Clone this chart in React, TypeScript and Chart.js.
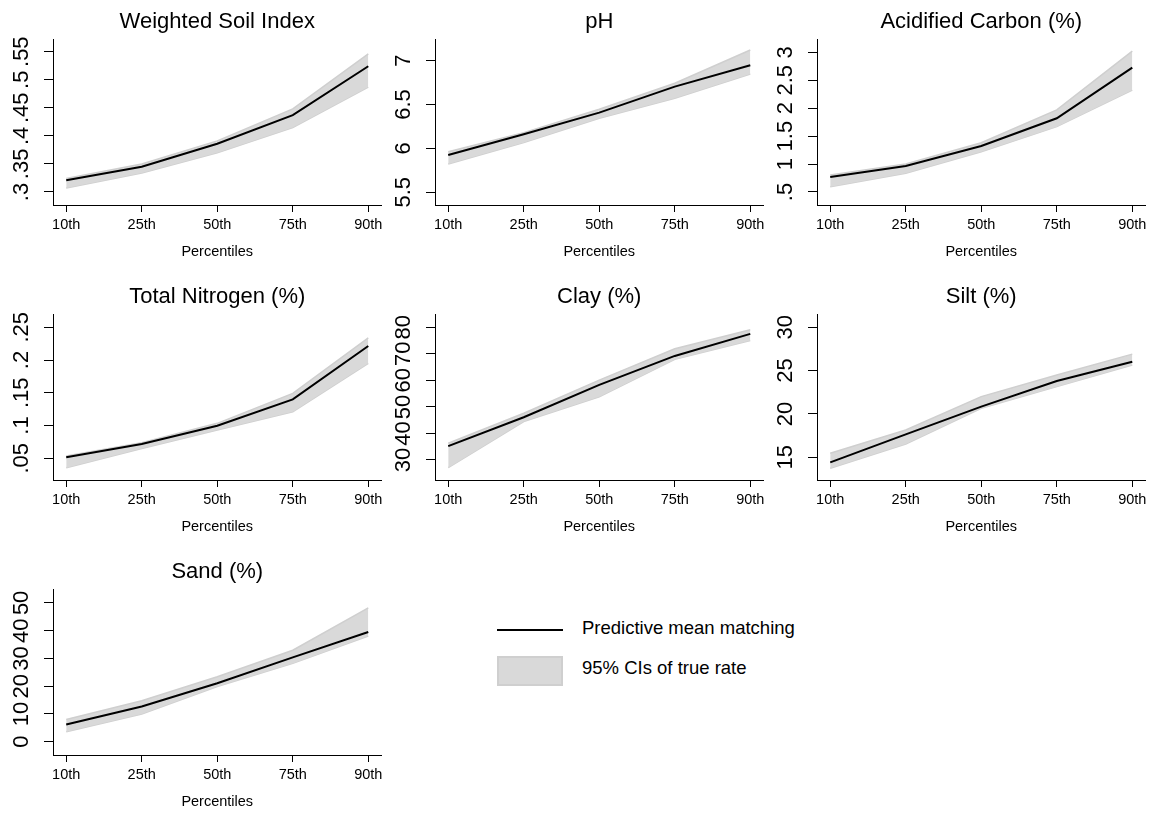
import React, { useEffect, useRef } from 'react';
import { Chart, registerables } from 'chart.js';

Chart.register(...registerables);

// ---------- data ----------
const percentileLabels = ['10th', '25th', '50th', '75th', '90th'];

const wsiMean = [0.321, 0.345, 0.386, 0.437, 0.524];
const wsiLower = [0.307, 0.334, 0.370, 0.415, 0.487];
const wsiUpper = [0.324, 0.350, 0.391, 0.448, 0.546];
const wsiTicks = ['.3', '.35', '.4', '.45', '.5', '.55'];

const phMean = [5.925, 6.161, 6.408, 6.704, 6.948];
const phLower = [5.823, 6.066, 6.343, 6.572, 6.849];
const phUpper = [5.963, 6.18, 6.446, 6.743, 7.122];
const phTicks = ['5.5', '6', '6.5', '7'];

const acMean = [0.768, 0.965, 1.323, 1.819, 2.725];
const acLower = [0.595, 0.835, 1.221, 1.669, 2.324];
const acUpper = [0.804, 1.001, 1.382, 1.968, 3.02];
const acTicks = ['.5', '1', '1.5', '2', '2.5', '3'];

const tnMean = [0.0515, 0.0718, 0.0998, 0.14, 0.2214];
const tnLower = [0.0357, 0.065, 0.0932, 0.121, 0.195];
const tnUpper = [0.0535, 0.0738, 0.1034, 0.149, 0.234];
const tnTicks = ['.05', '.1', '.15', '.2', '.25'];

const clayMean = [35.2, 46.1, 58.3, 69.2, 77.5];
const clayLower = [27.1, 44.5, 53.8, 67.9, 75.0];
const clayUpper = [36.3, 47.6, 60.1, 71.9, 79.1];
const clayTicks = ['30', '40', '50', '60', '70', '80'];

const siltMean = [14.42, 17.65, 20.84, 23.8, 26.03];
const siltLower = [13.73, 16.53, 20.65, 23.15, 25.65];
const siltUpper = [15.46, 18.15, 22.0, 24.5, 26.9];
const siltTicks = ['15', '20', '25', '30'];

const sandMean = [6.18, 12.7, 21.07, 30.36, 39.5];
const sandLower = [3.57, 10.0, 19.86, 28.2, 38.1];
const sandUpper = [8.0, 14.75, 23.4, 32.96, 48.2];
const sandTicks = ['0', '10', '20', '30', '40', '50'];

const panels = [
  { title: 'Weighted Soil Index', mean: wsiMean, lower: wsiLower, upper: wsiUpper, ticks: wsiTicks, min: 0.2768, max: 0.5726 },
  { title: 'pH', mean: phMean, lower: phLower, upper: phUpper, ticks: phTicks, min: 5.355, max: 7.247 },
  { title: 'Acidified Carbon (%)', mean: acMean, lower: acLower, upper: acUpper, ticks: acTicks, min: 0.267, max: 3.238 },
  { title: 'Total Nitrogen (%)', mean: tnMean, lower: tnLower, upper: tnUpper, ticks: tnTicks, min: 0.0169, max: 0.2703 },
  { title: 'Clay (%)', mean: clayMean, lower: clayLower, upper: clayUpper, ticks: clayTicks, min: 22.46, max: 85.0 },
  { title: 'Silt (%)', mean: siltMean, lower: siltLower, upper: siltUpper, ticks: siltTicks, min: 12.38, max: 31.53 },
  { title: 'Sand (%)', mean: sandMean, lower: sandLower, upper: sandUpper, ticks: sandTicks, min: -4.79, max: 55 },
];

// ---------- layout / style ----------
const FONT = '"Liberation Sans", Arial, Helvetica, sans-serif';
const COL_LEFT = [0, 382, 764];
const ROW_TOP = [0, 275, 550];
const CANVAS_W = 392;
const CANVAS_H = 262;
const Y_AXIS_W = 53;
const X_AXIS_H = 57;
const PLOT_W = 328.5;
const Y_TICK_SIZE = 22;
const Y_TICK_LEN = 9;
const Y_LABEL_CENTER = 31;
const BAND_FILL = '#d9d9d9';
const BAND_EDGE = '#cfcfcf';

type PanelCfg = typeof panels[number];

function Panel({ cfg, left, top }: { cfg: PanelCfg; left: number; top: number }) {
  const ref = useRef<HTMLCanvasElement>(null);
  useEffect(() => {
    const canvas = ref.current!;
    const ctx = canvas.getContext('2d')!;
    ctx.font = `${Y_TICK_SIZE}px ${FONT}`;
    const widest = Math.max(...cfg.ticks.map((t) => ctx.measureText(t).width));
    const pts = (arr: number[]) => arr.map((v, i) => ({ x: i, y: v }));
    const chart = new Chart(canvas, {
      type: 'line',
      data: {
        datasets: [
          { label: 'mean', data: pts(cfg.mean), borderColor: '#000', borderWidth: 2, pointRadius: 0, fill: false, tension: 0 },
          { label: 'upper', data: pts(cfg.upper), borderColor: BAND_EDGE, borderWidth: 1.5, pointRadius: 0, fill: '+1', backgroundColor: BAND_FILL, tension: 0 },
          { label: 'lower', data: pts(cfg.lower), borderColor: BAND_EDGE, borderWidth: 1.5, pointRadius: 0, fill: false, tension: 0 },
        ],
      },
      options: {
        responsive: false,
        animation: false,
        events: [],
        layout: { padding: { left: 0, top: 0, bottom: 0, right: CANVAS_W - Y_AXIS_W - PLOT_W } },
        plugins: {
          legend: { display: false },
          tooltip: { enabled: false },
          title: {
            display: true,
            text: cfg.title,
            fullSize: false,
            color: '#000',
            font: { family: FONT, size: 22, weight: 'normal' },
            padding: { top: 9, bottom: 3.6 },
          },
        },
        scales: {
          x: {
            type: 'linear',
            min: -0.175,
            max: 4.175,
            bounds: 'data',
            afterBuildTicks: (s: any) => {
              s.ticks = percentileLabels.map((_, i) => ({ value: i }));
            },
            afterFit: (s: any) => {
              s.height = X_AXIS_H;
            },
            ticks: {
              autoSkip: false,
              maxRotation: 0,
              minRotation: 0,
              padding: 4,
              color: '#000',
              font: { family: FONT, size: 14.5 },
              callback: (v: any) => percentileLabels[Math.round(Number(v))],
            },
            grid: { display: true, drawOnChartArea: false, drawTicks: true, tickLength: 7, color: '#000', lineWidth: 1 },
            border: { display: true, color: '#000', width: 1 },
            title: {
              display: true,
              text: 'Percentiles',
              color: '#000',
              font: { family: FONT, size: 14.5 },
              padding: { top: 0, bottom: 1.6 },
            },
          },
          y: {
            type: 'linear',
            min: cfg.min,
            max: cfg.max,
            bounds: 'data',
            afterBuildTicks: (s: any) => {
              s.ticks = cfg.ticks.map((t) => ({ value: Number(t) }));
            },
            afterFit: (s: any) => {
              s.width = Y_AXIS_W;
            },
            ticks: {
              autoSkip: false,
              minRotation: 90,
              maxRotation: 90,
              crossAlign: 'center',
              padding: Y_LABEL_CENTER - Y_TICK_LEN - widest / 2,
              color: '#000',
              font: { family: FONT, size: Y_TICK_SIZE },
              callback: (_v: any, i: number) => cfg.ticks[i],
            },
            grid: { display: true, drawOnChartArea: false, drawTicks: true, tickLength: Y_TICK_LEN, color: '#000', lineWidth: 1 },
            border: { display: true, color: '#000', width: 1 },
          },
        },
      } as any,
    });
    return () => chart.destroy();
  }, [cfg]);
  return (
    <canvas
      ref={ref}
      width={CANVAS_W}
      height={CANVAS_H}
      style={{ position: 'absolute', left, top, width: CANVAS_W, height: CANVAS_H }}
    />
  );
}

function Legend() {
  const text: React.CSSProperties = {
    position: 'absolute',
    left: 582,
    fontFamily: FONT,
    fontSize: 18.5,
    lineHeight: '22px',
    color: '#000',
    whiteSpace: 'nowrap',
  };
  return (
    <>
      <div style={{ position: 'absolute', left: 497, top: 629, width: 66, height: 2, background: '#000' }} />
      <div style={{ ...text, top: 627.5 - 11 }}>Predictive mean matching</div>
      <div
        style={{
          position: 'absolute',
          left: 497,
          top: 656,
          width: 66,
          height: 30,
          boxSizing: 'border-box',
          background: BAND_FILL,
          border: `2px solid ${BAND_EDGE}`,
        }}
      />
      <div style={{ ...text, top: 667.5 - 11 }}>95% CIs of true rate</div>
    </>
  );
}

export default function App() {
  return (
    <div style={{ position: 'absolute', left: 0, top: 0, width: 1153, height: 814, overflow: 'hidden', background: '#fff' }}>
      {panels.map((cfg, i) => (
        <Panel key={cfg.title} cfg={cfg} left={COL_LEFT[i % 3]} top={ROW_TOP[Math.floor(i / 3)]} />
      ))}
      <Legend />
    </div>
  );
}
